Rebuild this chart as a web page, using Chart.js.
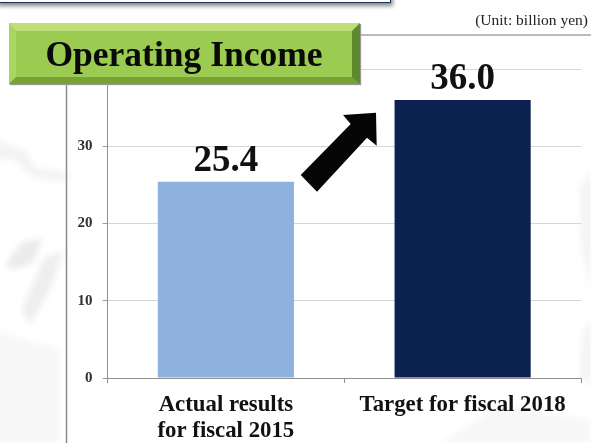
<!DOCTYPE html>
<html>
<head>
<meta charset="utf-8">
<style>
  html, body { margin: 0; padding: 0; background: #fff; }
  #wrap { position: relative; width: 591px; height: 443px; overflow: hidden; font-family: "Liberation Serif", serif; }
  #chart { position: absolute; left: 0; top: 0; }
  .deco { position: absolute; left: 0; top: 0; }
  #headbox { position: absolute; left: -4px; top: -6px; width: 393px; height: 7px; background: #fff; border: 1px solid #17325f; box-shadow: 2px 3px 4px #888; }
  #unit { position: absolute; right: 3px; top: 11px; font-size: 15.5px; color: #222; }
  #title {
    position: absolute; left: 9px; top: 23px; width: 351px; height: 61px; box-sizing: border-box;
    background: #9bcb50; border-style: solid; border-width: 8px 8px 7px 7px;
    border-color: #c0dd78 #5d8a2b #76a236 #a9d560;
    font-weight: bold; font-size: 35.5px; line-height: 46px; text-align: center; color: #0a0a0a;
    box-shadow: 1px 1px 1px #999;
  }
</style>
</head>
<body>
<div id="wrap">
  <svg class="deco" width="591" height="443">
    <defs>
      <filter id="soft"><feGaussianBlur stdDeviation="3"/></filter>
    </defs>
    <g filter="url(#soft)">
      <path d="M-5 140 L25 150 L35 168 L62 172 L75 176 L60 182 L30 176 L15 160 L-5 158 Z" fill="#f3f3f3"/>
      <path d="M5 265 L22 242 L42 238 L34 262 L14 270 Z" fill="#ebebeb"/>
      <path d="M22 310 L44 258 L64 250 L50 290 L30 325 Z" fill="#eeeeee"/>
      <path d="M-5 330 L60 350 L60 443 L-5 443 Z" fill="#f7f7f7"/>
      <path d="M440 443 L500 405 L591 420 L591 443 Z" fill="#f7f7f7"/>
      <path d="M580 190 L591 170 L591 290 L582 250 Z" fill="#f3f3f3"/>
      <path d="M583 330 L591 320 L591 385 L580 378 Z" fill="#f3f3f3"/>
    </g>
    <line x1="66.5" y1="84" x2="66.5" y2="443" stroke="#8a8a8a" stroke-width="1.5"/>
    <line x1="360" y1="35" x2="591" y2="35" stroke="#777" stroke-width="1"/>
  </svg>
  <canvas id="chart" width="591" height="443"></canvas>
  <svg class="deco" width="591" height="443">
    <path d="M300.7 175 L350.7 124 L343 115 L376 112.7 L376.7 145.7 L367 137.7 L317 191.7 Z" fill="#050505"/>
  </svg>
  <div id="headbox"></div>
  <div id="unit">(Unit: billion yen)</div>
  <div id="title">Operating Income</div>
</div>
<script src="https://cdn.jsdelivr.net/npm/chart.js@4"></script>
<script>
let categories = [["Actual results", "for fiscal 2015"], "Target for fiscal 2018"];
let income = [25.4, 36.0];
let barColors = ["#8eb1de", "#0b2150"];
let yTicks = [0, 10, 20, 30, 40];

// writes the value above each bar
let valueLabels = {
  id: "valueLabels",
  afterDatasetsDraw(chart) {
    let ctx = chart.ctx;
    let bars = chart.getDatasetMeta(0).data;
    ctx.save();
    ctx.font = "bold 37px 'Liberation Serif'";
    ctx.fillStyle = "#111";
    ctx.textAlign = "center";
    ctx.textBaseline = "alphabetic";
    bars.forEach((bar, i) => {
      ctx.fillText(income[i].toFixed(1), bar.x, bar.y - 11);
    });
    ctx.restore();
  },
};

new Chart(document.getElementById("chart").getContext("2d"), {
  type: "bar",
  data: {
    labels: categories,
    datasets: [
      {
        data: income,
        backgroundColor: barColors,
        barPercentage: 0.575,
        categoryPercentage: 1,
      },
    ],
  },
  plugins: [valueLabels],
  options: {
    responsive: false,
    animation: false,
    layout: {
      padding: { left: 76, right: 10, top: 69, bottom: 0 },
    },
    plugins: {
      legend: { display: false },
      tooltip: { enabled: false },
    },
    scales: {
      x: {
        afterFit(axis) {
          axis.height = 65;
        },
        grid: { drawOnChartArea: false, color: "#8f8f8f", tickLength: 5 },
        border: { color: "#8f8f8f" },
        ticks: {
          color: "#111",
          font: { family: "Liberation Serif", weight: "bold", size: 22.8, lineHeight: 1.1 },
          maxRotation: 0,
          padding: 10,
        },
      },
      y: {
        min: 0,
        max: 40,
        afterBuildTicks(axis) {
          axis.ticks = yTicks.map((v) => ({ value: v }));
        },
        afterFit(axis) {
          axis.width = 31.5;
        },
        grid: { color: "#d6d6d6", tickColor: "#9a9a9a", tickLength: 5 },
        border: { color: "#8f8f8f" },
        ticks: {
          color: "#333",
          font: { family: "Liberation Serif", weight: "bold", size: 15 },
          padding: 10,
        },
      },
    },
  },
});
</script>
</body>
</html>
